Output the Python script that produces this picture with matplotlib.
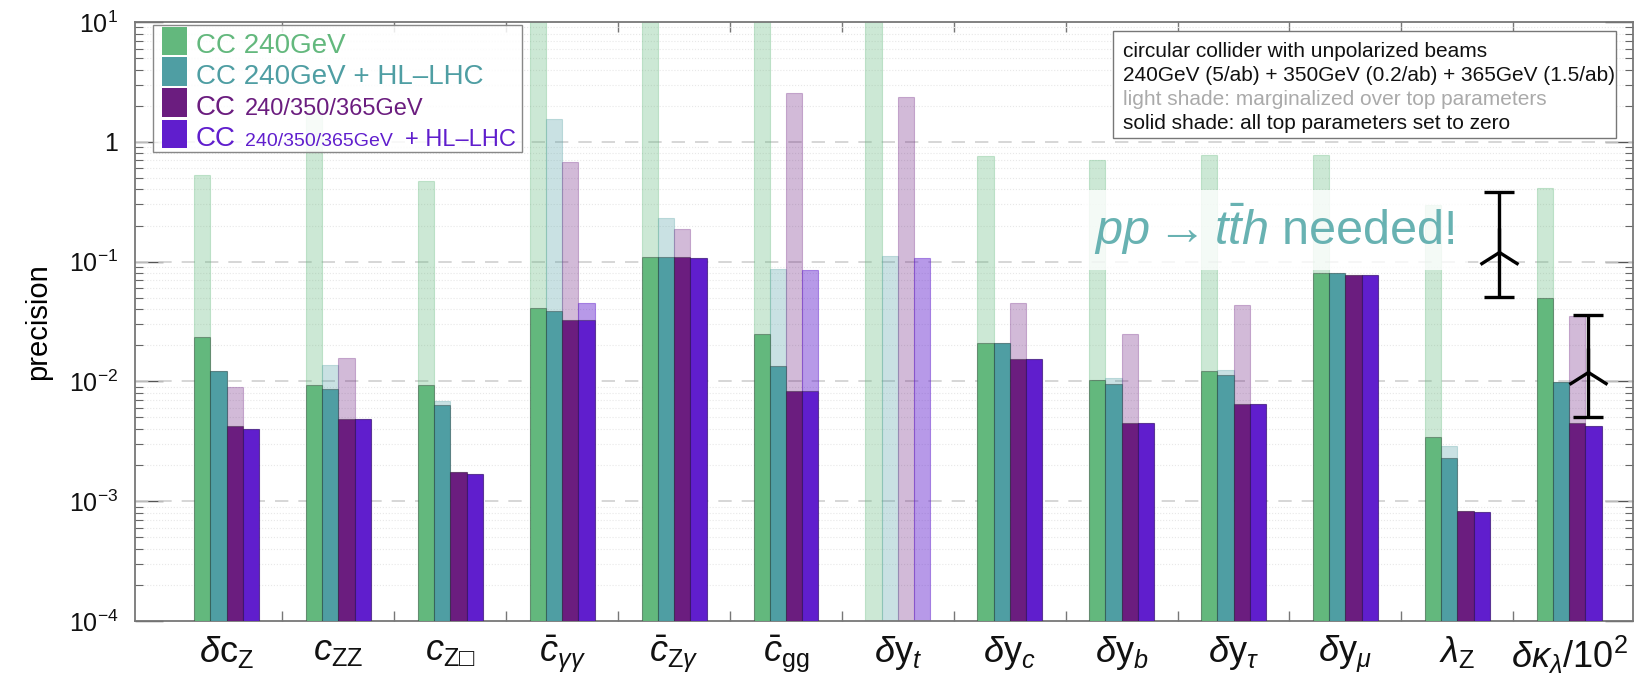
import numpy as np
import matplotlib
matplotlib.use('Agg')
import matplotlib.pyplot as plt
from matplotlib.patches import Rectangle
from matplotlib.ticker import LogLocator, NullFormatter

plt.rcParams['font.family'] = ['Liberation Sans', 'DejaVu Sans']
plt.rcParams['mathtext.fontset'] = 'custom'
plt.rcParams['mathtext.rm'] = 'Liberation Sans'
plt.rcParams['mathtext.it'] = 'Liberation Sans:italic'
plt.rcParams['mathtext.bf'] = 'Liberation Sans:bold'
plt.rcParams['mathtext.fallback'] = 'stixsans'

# ---------------------------------------------------------------- data
labels = [r'$\delta\mathrm{c}_\mathrm{Z}$', r'$c_\mathrm{ZZ}$', '$c_{\\mathrm{Z}\u25a1}$',
          r'$\bar{c}_{\gamma\gamma}$', r'$\bar{c}_{\mathrm{Z}\gamma}$', r'$\bar{c}_\mathrm{gg}$',
          r'$\delta\mathrm{y}_t$', r'$\delta\mathrm{y}_c$', r'$\delta\mathrm{y}_b$',
          r'$\delta\mathrm{y}_\tau$', r'$\delta\mathrm{y}_\mu$', r'$\lambda_\mathrm{Z}$',
          r'$\delta\kappa_\lambda/10^2$']

nan = np.nan
# light shade: marginalized over top parameters
cc240_marg    = [0.53, 1.8, 0.467, 10, 10, 10, 10, 0.766, 0.705, 0.776, 0.776, 0.296, 0.411]
cc240hl_marg  = [0.0121, 0.0137, 0.00684, 1.55, 0.23, 0.0863, 0.111, 0.021, 0.0106, 0.0124, 0.08, 0.0029, 0.00995]
cc365_marg    = [0.00895, 0.0157, 0.00175, 0.68, 0.186, 2.54, 2.38, 0.0454, 0.0251, 0.0434, 0.0773, 0.00083, 0.0352]
cc365hl_marg  = [0.00398, 0.00488, 0.0017, 0.045, 0.108, 0.085, 0.108, 0.0154, 0.0045, 0.0065, 0.0773, 0.00081, 0.00425]
# solid shade: all top parameters set to zero
cc240_zero    = [0.0233, 0.00925, 0.0093, 0.0413, 0.11, 0.0247, nan, 0.021, 0.0103, 0.0121, 0.0798, 0.00344, 0.0497]
cc240hl_zero  = [0.0121, 0.00865, 0.0063, 0.0386, 0.11, 0.0135, nan, 0.021, 0.0095, 0.0113, 0.08, 0.00231, 0.00995]
cc365_zero    = [0.00426, 0.00488, 0.00175, 0.0326, 0.11, 0.0083, nan, 0.0154, 0.0045, 0.0065, 0.0773, 0.00083, 0.0045]
cc365hl_zero  = [0.00398, 0.00488, 0.0017, 0.0326, 0.108, 0.0083, nan, 0.0154, 0.0045, 0.0065, 0.0773, 0.00081, 0.00425]

# pp -> tth ranges drawn on the right
err_x     = [11.37, 12.17]
err_lo    = [0.0509, 0.00508]
err_hi    = [0.383, 0.0358]
err_arrow = [0.12, 0.012]

green, teal, purple, violet = '#63b87d', '#4f9ea3', '#6b1d7f', '#601ecd'

# ---------------------------------------------------------------- figure
W, H = 1642, 681
fig = plt.figure(figsize=(W/100, H/100), dpi=100)
ax = fig.add_axes([135/W, 1-621/H, 1498/W, 599/H])
ax.set_yscale('log')
ax.set_ylim(1e-4, 10)
ax.set_xlim(-0.818, 12.57)

def fx(p): return p/W
def fy(p): return 1 - p/H

x = np.arange(len(labels))
bw = 0.145
base = 1e-4
series = [(cc240_marg, cc240_zero, green, 0.32),
          (cc240hl_marg, cc240hl_zero, teal, 0.3),
          (cc365_marg, cc365_zero, purple, 0.3),
          (cc365hl_marg, cc365hl_zero, violet, 0.45)]
for k, (marg, zero, col, a) in enumerate(series):
    xs = x + (k - 1.5)*bw
    m = np.array(marg)
    z = np.array(zero)
    ax.bar(xs, m - base, bw, bottom=base, color=col, alpha=a, edgecolor=col,
           linewidth=0.8, zorder=2)
    ax.bar(xs, z - base, bw, bottom=base, color=col, edgecolor=(0, 0, 0, 0.3),
           linewidth=0.8, zorder=3)

# grid
for v in [1e-3, 1e-2, 1e-1, 1]:
    ax.axhline(v, color='#cfcfcf', lw=1.2, ls=(0, (8, 6)), zorder=1)
ax.yaxis.grid(True, which='minor', color='#e8e8e8', lw=0.8, ls=':', zorder=0)
ax.set_axisbelow(True)

# ticks
ax.set_yticks([1e-4, 1e-3, 1e-2, 1e-1, 1, 10])
ax.set_yticklabels([r'$10^{-4}$', r'$10^{-3}$', r'$10^{-2}$', r'$10^{-1}$', '1', r'$10^{1}$'],
                   fontsize=18)
ax.yaxis.set_minor_locator(LogLocator(base=10, subs=np.arange(2, 10)))
ax.yaxis.set_minor_formatter(NullFormatter())
ax.tick_params(axis='y', which='major', direction='in', length=20, width=1,
               color='#555555', labelcolor='#111111', right=True, pad=12)
ax.tick_params(axis='y', which='minor', direction='in', length=6, width=0.8,
               color='#666666', right=True)
ax.set_xticks(x)
ax.set_xticklabels(labels, fontsize=26)
ax.tick_params(axis='x', which='major', length=0, pad=9, labelcolor='#111111')
ax.set_xticks(np.arange(len(labels) - 1) + 0.5, minor=True)
ax.tick_params(axis='x', which='minor', direction='in', length=7, width=1,
               color='#777777', top=True)
for s in ax.spines.values():
    s.set_color('#777777')
    s.set_linewidth(1.3)

ax.set_ylabel('precision', fontsize=21, labelpad=12)

# pp -> tth needed
ax.text(9.37, 0.184, r'$pp \rightarrow t\bar{t}h$ needed!', ha='center', va='center',
        fontsize=35, color='#68b2b2', zorder=4,
        bbox=dict(boxstyle='square,pad=0.25', fc='white', ec='none', alpha=0.8))
err_x = np.array(err_x)
err_arrow = np.array(err_arrow)
yerr = [err_arrow - np.array(err_lo), np.array(err_hi) - err_arrow]
ax.errorbar(err_x, err_arrow, yerr=yerr, fmt='none', ecolor='k', elinewidth=2.4,
            capsize=11, capthick=2.4, zorder=6)
ax.plot(err_x, err_arrow, ls='none', marker='2', ms=34, mew=2.4, color='k', zorder=6)

# legend (drawn by hand, mixed font sizes)
fig.add_artist(Rectangle((fx(153), fy(152)), (522-153)/W, (152-25)/H,
                         transform=fig.transFigure, fc=(1, 1, 1, 0.85), ec='#888888',
                         lw=1, zorder=5))
rows = [(27, 55), (57, 86), (88, 117), (120, 148)]
for (t, b), col in zip(rows, [green, teal, purple, violet]):
    fig.add_artist(Rectangle((fx(162), fy(b)), 25/W, (b-t)/H, transform=fig.transFigure,
                             fc=col, ec='none', zorder=6))
fig.text(fx(196), fy(53), 'CC 240GeV', color=green, fontsize=20, va='baseline', zorder=7)
fig.text(fx(196), fy(84), 'CC 240GeV + HL–LHC', color=teal, fontsize=20, va='baseline', zorder=7)
fig.text(fx(196), fy(115), 'CC', color=purple, fontsize=20, va='baseline', zorder=7)
fig.text(fx(245), fy(115), '240/350/365GeV', color=purple, fontsize=17, va='baseline', zorder=7)
fig.text(fx(196), fy(146), 'CC', color=violet, fontsize=20, va='baseline', zorder=7)
fig.text(fx(245), fy(146), '240/350/365GeV', color=violet, fontsize=14, va='baseline', zorder=7)
fig.text(fx(405), fy(146), '+ HL–LHC', color=violet, fontsize=17, va='baseline', zorder=7)

# info box top right
fig.add_artist(Rectangle((fx(1113), fy(138)), (1616-1113)/W, (138-31)/H,
                         transform=fig.transFigure, fc='white', ec='#777777', lw=1, zorder=5))
info = ['circular collider with unpolarized beams',
        '240GeV (5/ab) + 350GeV (0.2/ab) + 365GeV (1.5/ab)',
        'light shade: marginalized over top parameters',
        'solid shade: all top parameters set to zero']
info_col = ['#111111', '#111111', '#aaaaaa', '#111111']
for i, (txt, c) in enumerate(zip(info, info_col)):
    fig.text(fx(1123), fy(57 + 24*i), txt, color=c, fontsize=15, va='baseline', zorder=7)

fig.savefig('out.png', dpi=100)
